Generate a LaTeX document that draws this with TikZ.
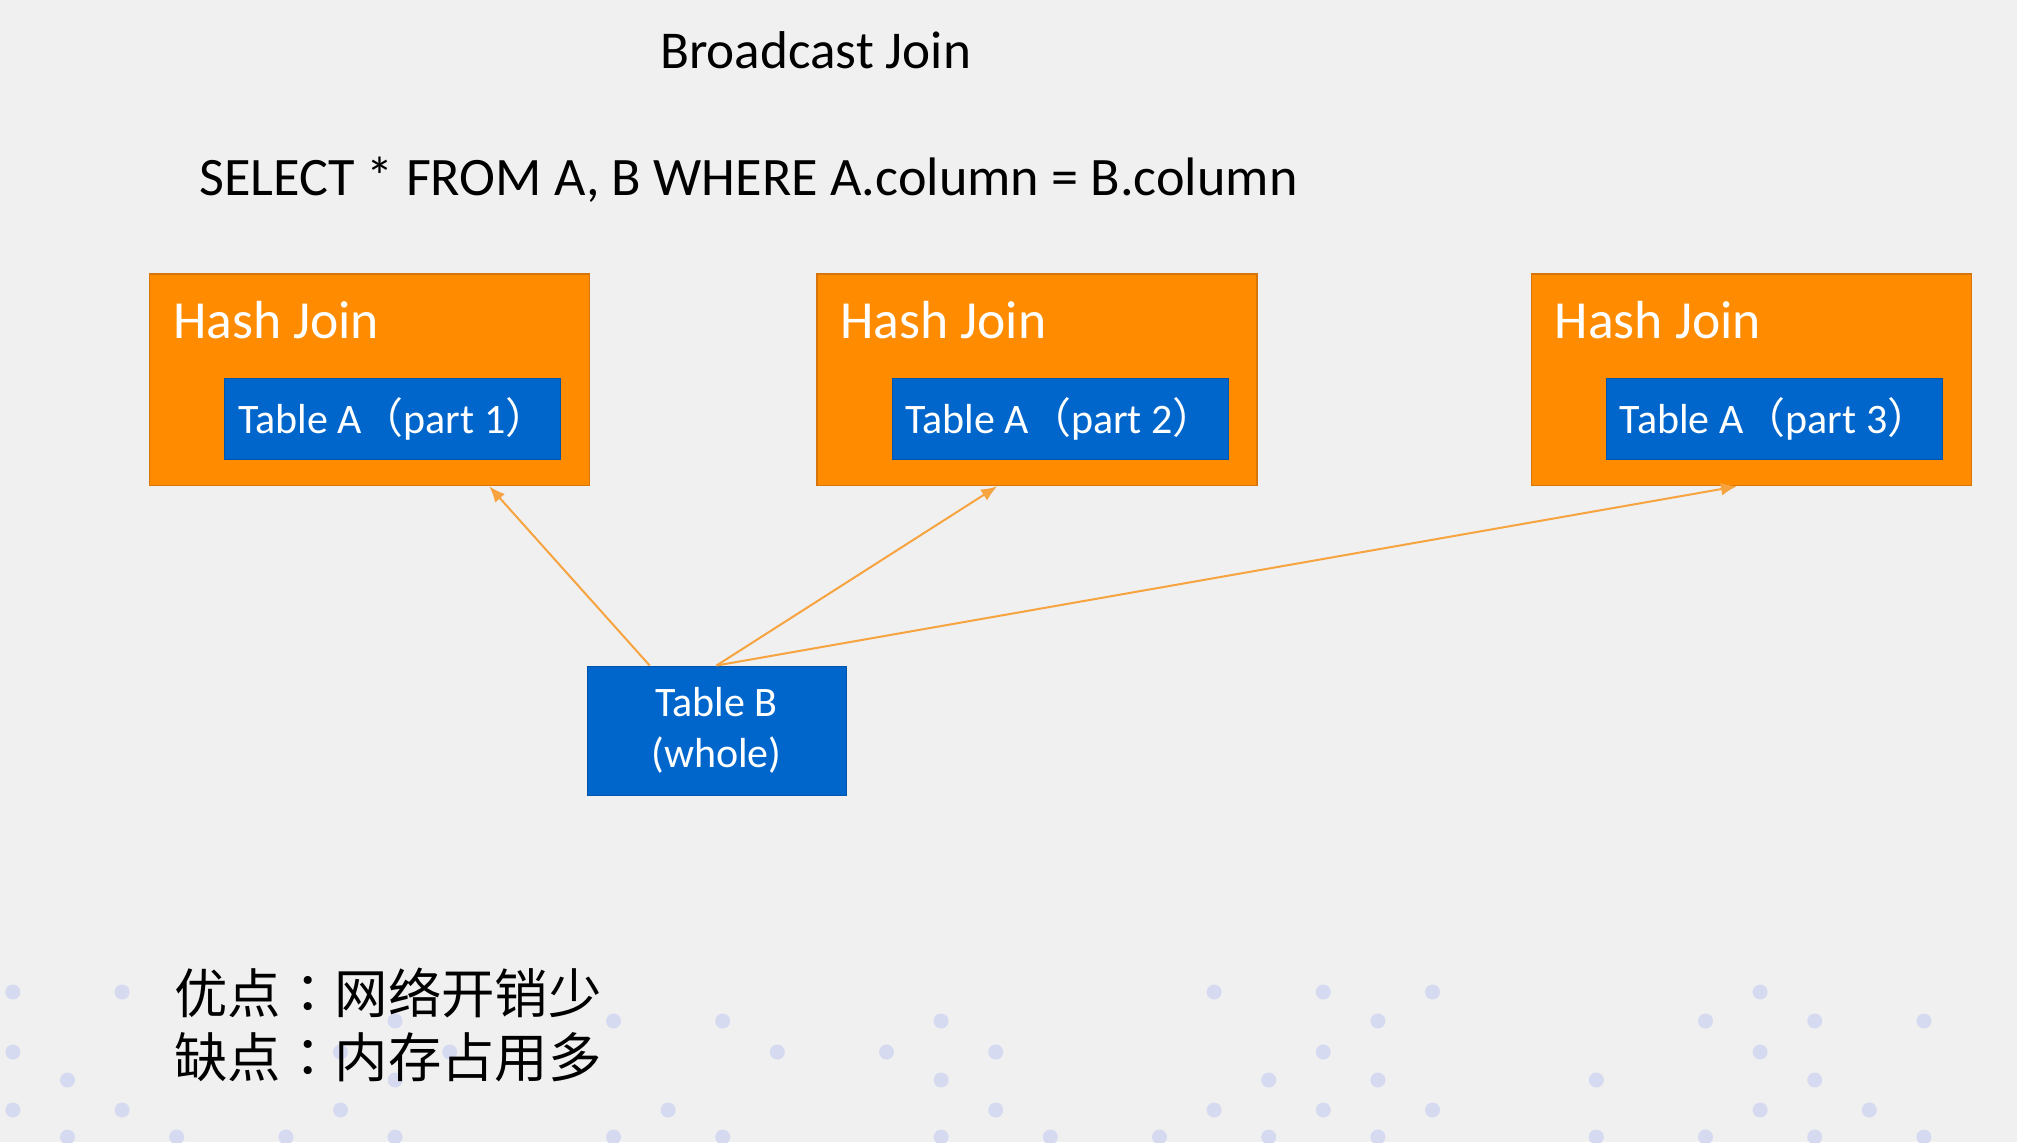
\documentclass[tikz,border=0pt]{standalone}
\usepackage{fontspec}
\setmainfont{Carlito}
\newfontfamily\cjk{Noto Sans CJK SC}
\newfontfamily\cjkcolon{Noto Sans CJK TC}
\usetikzlibrary{calc,arrows.meta,positioning}

\definecolor{slidebg}{RGB}{240,240,240}
\definecolor{joinorange}{RGB}{255,140,0}
\definecolor{joinedge}{RGB}{214,118,10}
\definecolor{tableblue}{RGB}{0,102,204}
\definecolor{tableedge}{RGB}{0,84,170}
\definecolor{linkorange}{RGB}{246,163,64}
\definecolor{dotblue}{RGB}{214,218,240}

\tikzset{
  joinbox/.style={rectangle, fill=joinorange, draw=joinedge, line width=0.6pt,
    minimum width=220pt, minimum height=105.85pt, inner sep=0pt},
  jointext/.style={text=white, font=\fontsize{26.8}{30}\selectfont, inner sep=0pt},
  tablebox/.style={rectangle, fill=tableblue, draw=tableedge, line width=0.5pt,
    text=white, font=\fontsize{21}{25.5}\selectfont, inner sep=0pt},
  link/.style={draw=linkorange, line width=1pt, -{Latex[length=8pt,width=6.5pt]}}
}

\begin{document}
\begin{tikzpicture}[x=0.5pt, y=-0.5pt]
      % Background and dots
      \fill[slidebg] (0,0) rectangle (2017,1142);
      \useasboundingbox (0,0) rectangle (2017,1142);
      \foreach \row/\ks in {992/{0,2,22,24,26,32},
          1021/{7,11,13,17,25,31,33,35},
          1052/{0,6,8,14,16,18,24,32},
          1080/{1,7,17,23,25,29,33},
          1110/{0,2,6,12,18,22,24,26,32,34},
          1137/{1,3,5,7,11,13,17,19,21,23,25,29,31,33,35}}
        \foreach \k in \ks
          \fill[dotblue] ({12.9+54.6*\k},\row) circle[radius=3.75pt];
      % Add the titles
      \node[font=\fontsize{26.6}{30}\selectfont] (title) at (815.6,50) {Broadcast Join};
      \node[font=\fontsize{27.1}{30}\selectfont] (query) at (748.5,180)
        {SELECT * FROM A, B WHERE A.column = B.column};
      % Add the hash joins
      \node[joinbox,
        label={[jointext, anchor=north west, xshift=11.75pt, yshift=-13.8pt]north west:Hash Join}]
        (hj1) at (369.7,379.85) {};
      \node[joinbox,
        right=113pt of hj1,
        label={[jointext, anchor=north west, xshift=11.75pt, yshift=-13.8pt]north west:Hash Join}]
        (hj2) {};
      \node[joinbox,
        right=136.7pt of hj2,
        label={[jointext, anchor=north west, xshift=11.75pt, yshift=-13.8pt]north west:Hash Join}]
        (hj3) {};
      % Add the tables
      \node[tablebox,
        minimum width=168pt, minimum height=40.5pt,
        above left=13.35pt and 14.5pt of hj1.south east] (ta1) {Table A{\cjk （}part 1{\cjk ）}};
      \node[tablebox,
        minimum width=168pt, minimum height=40.5pt,
        above left=13.35pt and 14.5pt of hj2.south east] (ta2) {Table A{\cjk （}part 2{\cjk ）}};
      \node[tablebox,
        minimum width=168pt, minimum height=40.5pt,
        above left=13.35pt and 14.5pt of hj3.south east] (ta3) {Table A{\cjk （}part 3{\cjk ）}};
      \node[tablebox,
        minimum width=129.5pt, minimum height=64.5pt,
        align=center] (tb) at (716.5,730.5) {Table B\\(whole)};
      % Connect table B with the joins
      \draw
      ($(tb.north west)!0.243!(tb.north east)$) edge[link] ($(hj1.south west)!0.771!(hj1.south east)$)
      (tb.north) edge[link] ($(hj2.south west)!0.41!(hj2.south east)$)
      (tb.north) edge[link] ($(hj3.south west)!0.467!(hj3.south east)$);
      % Pros and cons
      \node[font=\cjk\fontsize{26.7}{32}\selectfont, align=left, anchor=west, inner sep=0pt]
        (notes) at (174,1025) {优点{\cjkcolon ：}网络开销少\\缺点{\cjkcolon ：}内存占用多};
    \end{tikzpicture}
\end{document}
